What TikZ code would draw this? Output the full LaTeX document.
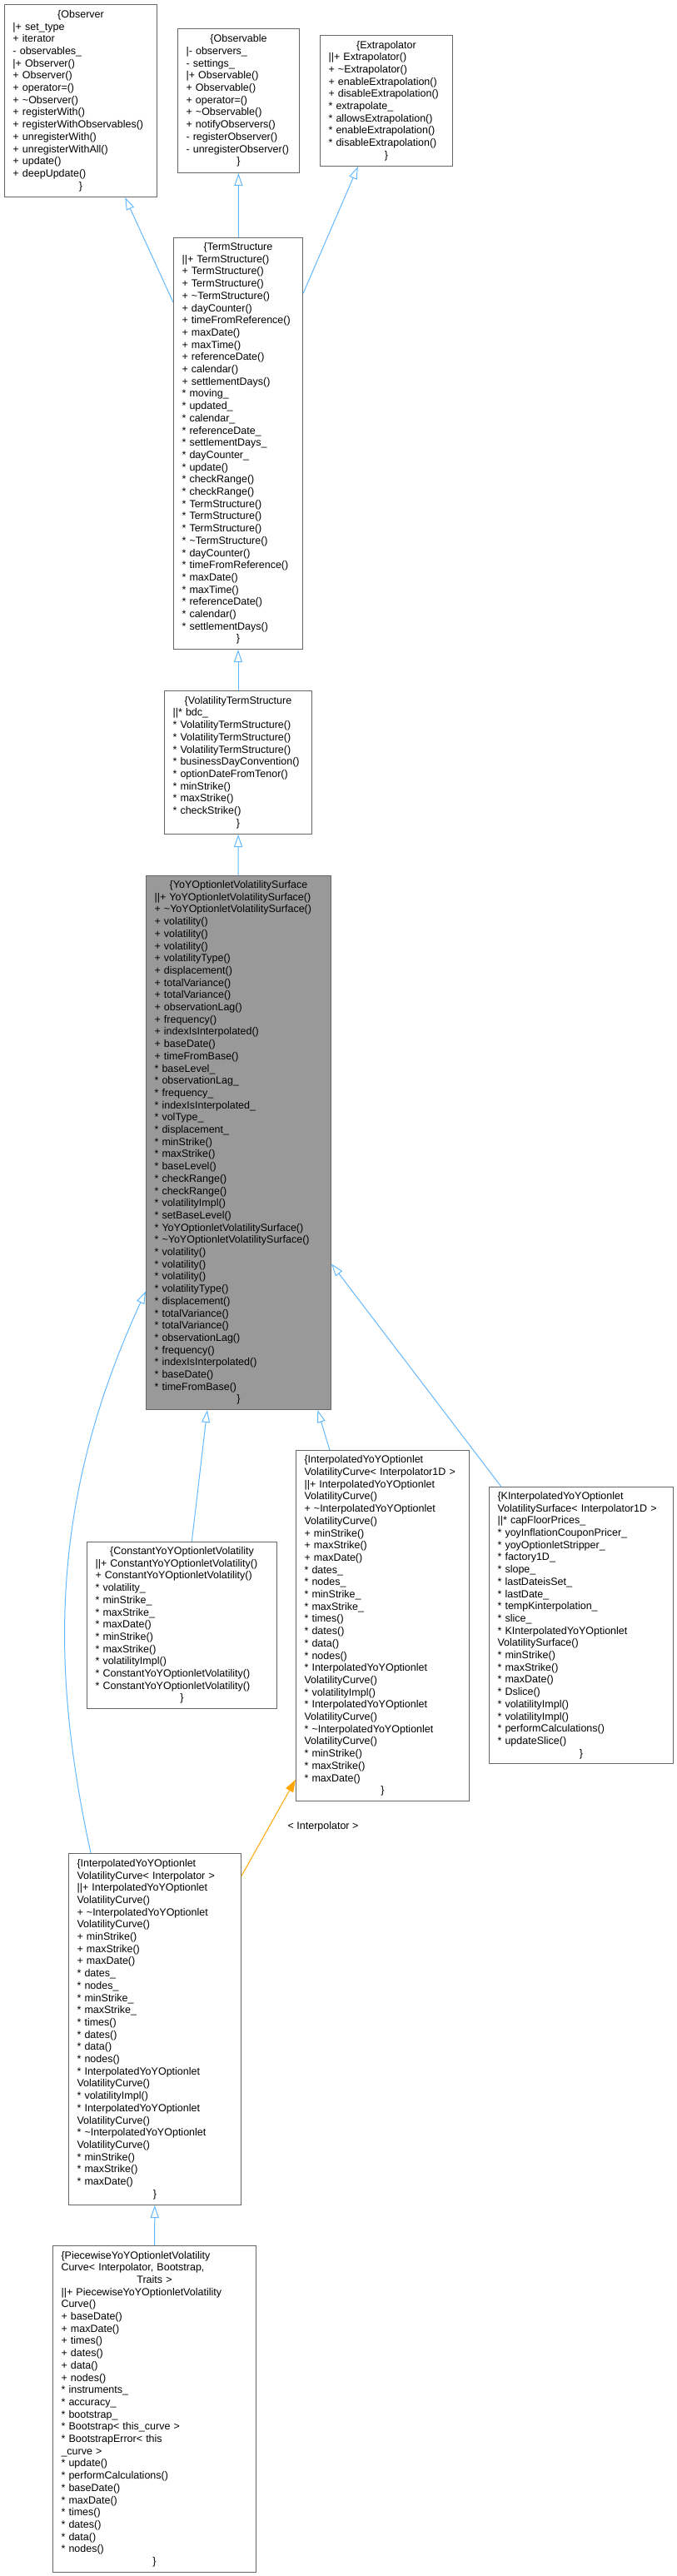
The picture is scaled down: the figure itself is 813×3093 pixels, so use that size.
\documentclass[tikz,border=0pt]{standalone}
\usepackage{fontspec}
\setmainfont{Liberation Sans}
\usetikzlibrary{arrows.meta}
\definecolor{edgeblue}{HTML}{63B8FF}
\definecolor{boxline}{HTML}{666666}
\definecolor{mainfill}{HTML}{999999}
\definecolor{tmplorange}{HTML}{FFA500}
\hyphenpenalty=10000
\exhyphenpenalty=10000
\newcommand{\ctr}[1]{\makebox[\linewidth]{#1}}
\begin{document}
\begin{tikzpicture}[x=1pt, y=-1pt,
  every node/.style={font=\fontsize{12.5}{14.7}\selectfont},
  cls/.style={draw=boxline, fill=white, line width=1pt, anchor=north west,
    inner xsep=10pt, inner ysep=0pt, align=left},
  inherit/.style={draw=edgeblue, line width=1pt, -{Triangle[open, length=15pt, width=10pt]}},
  tmpl/.style={draw=tmplorange, line width=1pt, -{Triangle[length=15pt, width=10pt]}}]
  \useasboundingbox (0,0) rectangle (813,3093);
  % Base classes
  \node[cls, text width=163pt, minimum height=231pt] (observer) at (5,5) {\ctr{\{Observer}\\
    |+ set\_type\\ + iterator\\ - observables\_\\ |+ Observer()\\ + Observer()\\ + operator=()\\
    + \textasciitilde Observer()\\ + registerWith()\\ + registerWithObservables()\\ + unregisterWith()\\
    + unregisterWithAll()\\ + update()\\ + deepUpdate()\\ \ctr{\}}};
  \node[cls, text width=126pt, minimum height=173pt] (observable) at (213,34) {\ctr{\{Observable}\\
    |- observers\_\\ - settings\_\\ |+ Observable()\\ + Observable()\\ + operator=()\\
    + \textasciitilde Observable()\\ + notifyObservers()\\ - registerObserver()\\ - unregisterObserver()\\ \ctr{\}}};
  \node[cls, text width=139pt, minimum height=157pt] (extrapolator) at (384,42) {\ctr{\{Extrapolator}\\
    ||+ Extrapolator()\\ + \textasciitilde Extrapolator()\\ + enableExtrapolation()\\ + disableExtrapolation()\\
    {*} extrapolate\_\\ {*} allowsExtrapolation()\\ {*} enableExtrapolation()\\ {*} disableExtrapolation()\\ \ctr{\}}};
  \node[cls, text width=135pt, minimum height=494pt] (termstructure) at (208,285) {\ctr{\{TermStructure}\\
    ||+ TermStructure()\\ + TermStructure()\\ + TermStructure()\\ + \textasciitilde TermStructure()\\
    + dayCounter()\\ + timeFromReference()\\ + maxDate()\\ + maxTime()\\ + referenceDate()\\ + calendar()\\
    + settlementDays()\\ {*} moving\_\\ {*} updated\_\\ {*} calendar\_\\ {*} referenceDate\_\\ {*} settlementDays\_\\
    {*} dayCounter\_\\ {*} update()\\ {*} checkRange()\\ {*} checkRange()\\ {*} TermStructure()\\ {*} TermStructure()\\
    {*} TermStructure()\\ {*} \textasciitilde TermStructure()\\ {*} dayCounter()\\ {*} timeFromReference()\\ {*} maxDate()\\
    {*} maxTime()\\ {*} referenceDate()\\ {*} calendar()\\ {*} settlementDays()\\ \ctr{\}}};
  \node[cls, text width=157pt, minimum height=172pt] (voltermstructure) at (197,829) {\ctr{\{VolatilityTermStructure}\\
    ||* bdc\_\\ {*} VolatilityTermStructure()\\ {*} VolatilityTermStructure()\\ {*} VolatilityTermStructure()\\
    {*} businessDayConvention()\\ {*} optionDateFromTenor()\\ {*} minStrike()\\ {*} maxStrike()\\ {*} checkStrike()\\ \ctr{\}}};
  % Main class
  \node[cls, fill=mainfill, text width=202pt, minimum height=641pt] (yoysurface) at (175,1051) {\ctr{\{YoYOptionletVolatilitySurface}\\
    ||+ YoYOptionletVolatilitySurface()\\ + \textasciitilde YoYOptionletVolatilitySurface()\\ + volatility()\\
    + volatility()\\ + volatility()\\ + volatilityType()\\ + displacement()\\ + totalVariance()\\ + totalVariance()\\
    + observationLag()\\ + frequency()\\ + indexIsInterpolated()\\ + baseDate()\\ + timeFromBase()\\ {*} baseLevel\_\\
    {*} observationLag\_\\ {*} frequency\_\\ {*} indexIsInterpolated\_\\ {*} volType\_\\ {*} displacement\_\\ {*} minStrike()\\
    {*} maxStrike()\\ {*} baseLevel()\\ {*} checkRange()\\ {*} checkRange()\\ {*} volatilityImpl()\\ {*} setBaseLevel()\\
    {*} YoYOptionletVolatilitySurface()\\ {*} \textasciitilde YoYOptionletVolatilitySurface()\\ {*} volatility()\\
    {*} volatility()\\ {*} volatility()\\ {*} volatilityType()\\ {*} displacement()\\ {*} totalVariance()\\ {*} totalVariance()\\
    {*} observationLag()\\ {*} frequency()\\ {*} indexIsInterpolated()\\ {*} baseDate()\\ {*} timeFromBase()\\ \ctr{\}}};
  % Derived classes
  \node[cls, text width=208pt, minimum height=200pt] (constant) at (104,1851) {\ctr{\{ConstantYoYOptionletVolatility}\\
    ||+ ConstantYoYOptionletVolatility()\\ + ConstantYoYOptionletVolatility()\\ {*} volatility\_\\ {*} minStrike\_\\
    {*} maxStrike\_\\ {*} maxDate()\\ {*} minStrike()\\ {*} maxStrike()\\ {*} volatilityImpl()\\
    {*} ConstantYoYOptionletVolatility()\\ {*} ConstantYoYOptionletVolatility()\\ \ctr{\}}};
  \node[cls, text width=188pt, minimum height=421pt] (interp1d) at (355,1741) {\{InterpolatedYoYOptionlet\\
    VolatilityCurve< Interpolator1D >\\ ||+ InterpolatedYoYOptionlet\\ VolatilityCurve()\\
    + \textasciitilde InterpolatedYoYOptionlet\\ VolatilityCurve()\\ + minStrike()\\ + maxStrike()\\ + maxDate()\\
    {*} dates\_\\ {*} nodes\_\\ {*} minStrike\_\\ {*} maxStrike\_\\ {*} times()\\ {*} dates()\\ {*} data()\\ {*} nodes()\\
    {*} InterpolatedYoYOptionlet\\ VolatilityCurve()\\ {*} volatilityImpl()\\ {*} InterpolatedYoYOptionlet\\
    VolatilityCurve()\\ {*} \textasciitilde InterpolatedYoYOptionlet\\ VolatilityCurve()\\ {*} minStrike()\\
    {*} maxStrike()\\ {*} maxDate()\\ \ctr{\}}};
  \node[cls, text width=201pt, minimum height=332pt] (kinterp) at (587,1785) {\{KInterpolatedYoYOptionlet\\
    VolatilitySurface< Interpolator1D >\\ ||* capFloorPrices\_\\ {*} yoyInflationCouponPricer\_\\
    {*} yoyOptionletStripper\_\\ {*} factory1D\_\\ {*} slope\_\\ {*} lastDateisSet\_\\ {*} lastDate\_\\
    {*} tempKinterpolation\_\\ {*} slice\_\\ {*} KInterpolatedYoYOptionlet\\ VolatilitySurface()\\ {*} minStrike()\\
    {*} maxStrike()\\ {*} maxDate()\\ {*} Dslice()\\ {*} volatilityImpl()\\ {*} volatilityImpl()\\
    {*} performCalculations()\\ {*} updateSlice()\\ \ctr{\}}};
  \node[cls, text width=187pt, minimum height=422pt] (interp) at (82,2225) {\{InterpolatedYoYOptionlet\\
    VolatilityCurve< Interpolator >\\ ||+ InterpolatedYoYOptionlet\\ VolatilityCurve()\\
    + \textasciitilde InterpolatedYoYOptionlet\\ VolatilityCurve()\\ + minStrike()\\ + maxStrike()\\ + maxDate()\\
    {*} dates\_\\ {*} nodes\_\\ {*} minStrike\_\\ {*} maxStrike\_\\ {*} times()\\ {*} dates()\\ {*} data()\\ {*} nodes()\\
    {*} InterpolatedYoYOptionlet\\ VolatilityCurve()\\ {*} volatilityImpl()\\ {*} InterpolatedYoYOptionlet\\
    VolatilityCurve()\\ {*} \textasciitilde InterpolatedYoYOptionlet\\ VolatilityCurve()\\ {*} minStrike()\\
    {*} maxStrike()\\ {*} maxDate()\\ \ctr{\}}};
  \node[cls, text width=224pt, minimum height=392pt] (piecewise) at (63,2696) {\{PiecewiseYoYOptionletVolatility\\
    Curve< Interpolator, Bootstrap,\\ \ctr{Traits >}\\ ||+ PiecewiseYoYOptionletVolatility\\ Curve()\\
    + baseDate()\\ + maxDate()\\ + times()\\ + dates()\\ + data()\\ + nodes()\\ {*} instruments\_\\
    {*} accuracy\_\\ {*} bootstrap\_\\ {*} Bootstrap< this\_curve >\\ {*} BootstrapError< this\\ \_curve >\\
    {*} update()\\ {*} performCalculations()\\ {*} baseDate()\\ {*} maxDate()\\ {*} times()\\ {*} dates()\\ {*} data()\\
    {*} nodes()\\ \ctr{\}}};
  % Edges
  \draw[inherit] (termstructure) -- (observer);
  \draw[inherit] (termstructure) -- (observable);
  \draw[inherit] (termstructure) -- (extrapolator);
  \draw[inherit] (voltermstructure) -- (termstructure);
  \draw[inherit] (yoysurface) -- (voltermstructure);
  \draw[inherit] (constant) -- (yoysurface);
  \draw[inherit] (interp1d) -- (yoysurface);
  \draw[inherit] (kinterp.120) -- (yoysurface);
  \draw[inherit] (interp.110) .. controls (60,2000) and (60,1800) .. (yoysurface.238);
  \draw[inherit] (piecewise) -- (interp);
  \draw[tmpl] (interp) -- node[pos=0.51, anchor=west, xshift=22pt, inner sep=0pt] (tmpllabel) {< Interpolator >} (interp1d);
\end{tikzpicture}
\end{document}
